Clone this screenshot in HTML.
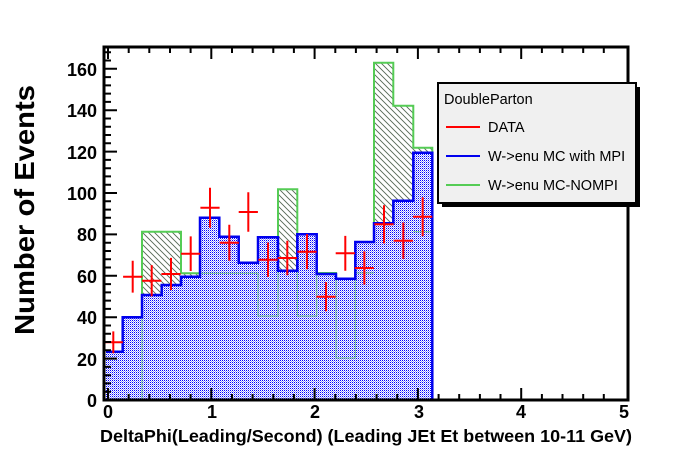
<!DOCTYPE html>
<html><head><style>body{margin:0;background:#fff}svg{display:block}</style></head><body>
<svg width="696" height="472" viewBox="0 0 696 472" xmlns="http://www.w3.org/2000/svg" font-family="Liberation Sans, sans-serif">
<defs>
<pattern id="dots" width="2" height="2" patternUnits="userSpaceOnUse"><rect width="2" height="2" fill="#fff"/><rect width="1" height="1" fill="#0000ff"/><rect x="1" y="1" width="1" height="1" fill="#9999ff"/></pattern>
<pattern id="hatch" width="6" height="6" patternUnits="userSpaceOnUse"><rect width="6" height="6" fill="#fff"/><path d="M0,0 L6,6 M-1,5 L1,7 M5,-1 L7,1" stroke="#556655" stroke-width="0.9"/></pattern>
</defs>
<rect width="696" height="472" fill="#fff"/>
<path d="M122.7,400 H142 V231.7 H181 V273.3 H258 V316 H278 V189.3 H297.3 V316 H316.7 V273 H336 V358 H355.3 V273 H374 V62.7 H393.3 V105.7 H413.3 V147.7 H432.3 V231.7 V400 Z" fill="url(#hatch)" stroke="#55cc55" stroke-width="2"/>
<path d="M106,400 V351.7 H122.7 V317.3 H142 V295 H161.7 V285 H181 V276.7 H200 V217.7 H219.3 V236.7 H238.7 V262.7 H258 V237.3 H278 V270.7 H297.3 V234.3 H316.7 V274 H336 V278.7 H355.3 V242 H374 V223.3 H393.3 V200.7 H413.3 V152.7 H432.3 V400 Z" fill="url(#dots)"/>
<path d="M142,400 V231.7 H181 V273.3 H258 V316 H278 V189.3 H297.3 V316 H316.7 V273 H336 V358 H355.3 V273 H374 M413.3,231.7 H432.3" fill="none" stroke="#55cc55" stroke-width="1" opacity="0.7"/>
<path d="M106,351.7 H122.7 V317.3 H142 V295 H161.7 V285 H181 V276.7 H200 V217.7 H219.3 V236.7 H238.7 V262.7 H258 V237.3 H278 V270.7 H297.3 V234.3 H316.7 V274 H336 V278.7 H355.3 V242 H374 V223.3 H393.3 V200.7 H413.3 V152.7 H432.3 V400 H628" fill="none" stroke="#0000ee" stroke-width="2.5"/>
<g stroke="#ff0000" stroke-width="2">
<path d="M103.7,342.3h19.2M113.3,331.4v21.8"/>
<path d="M123.1,276.7h19.2M132.7,260.8v31.8"/>
<path d="M142.1,280.7h19.2M151.7,265.1v31.2"/>
<path d="M161.4,274h19.2M171,257.9v32.2"/>
<path d="M181.1,253.7h19.2M190.7,236.4v34.6"/>
<path d="M200.4,207.7h19.2M210,187.7v40"/>
<path d="M219.7,242.7h19.2M229.3,224.8v35.8"/>
<path d="M238.7,212h19.2M248.3,192.3v39.4"/>
<path d="M258.4,259.7h19.2M268,242.5v34.4"/>
<path d="M277.7,258h19.2M287.3,240.7v34.6"/>
<path d="M297.4,251.7h19.2M307,234.1v35.2"/>
<path d="M316.4,296.7h19.2M326,282.1v29.2"/>
<path d="M335.7,253.3h19.2M345.3,235.9v34.8"/>
<path d="M354.7,268h19.2M364.3,251.4v33.2"/>
<path d="M374.4,224.3h19.2M384,205.2v38.2"/>
<path d="M393.7,240.7h19.2M403.3,222.5v36.4"/>
<path d="M413.1,216.7h19.2M422.7,197.2v39"/>
</g>
<rect x="104" y="47" width="524" height="353" fill="none" stroke="#000" stroke-width="3"/>
<g stroke="#000" stroke-width="2">
<path d="M104,400h13M104,358.6h13M104,317.2h13M104,275.8h13M104,234.4h13M104,193h13M104,151.6h13M104,110.2h13M104,68.8h13"/>
<path d="M104,391.7h7M104,383.4h7M104,375.2h7M104,366.9h7M104,350.3h7M104,342h7M104,333.8h7M104,325.5h7M104,308.9h7M104,300.6h7M104,292.4h7M104,284.1h7M104,267.5h7M104,259.2h7M104,251h7M104,242.7h7M104,226.1h7M104,217.8h7M104,209.6h7M104,201.3h7M104,184.7h7M104,176.4h7M104,168.2h7M104,159.9h7M104,143.3h7M104,135h7M104,126.8h7M104,118.5h7M104,101.9h7M104,93.6h7M104,85.4h7M104,77.1h7M104,60.5h7M104,52.2h7"/>
<path d="M108,400v-12M211.3,400v-12M314.6,400v-12M417.9,400v-12M521.2,400v-12M108,47v12M211.3,47v12M314.6,47v12M417.9,47v12M521.2,47v12"/>
<path d="M128.7,400v-6M149.3,400v-6M170,400v-6M190.6,400v-6M232,400v-6M252.6,400v-6M273.3,400v-6M293.9,400v-6M335.3,400v-6M355.9,400v-6M376.6,400v-6M397.2,400v-6M438.6,400v-6M459.2,400v-6M479.9,400v-6M500.5,400v-6M541.9,400v-6M562.5,400v-6M583.2,400v-6M603.8,400v-6M128.7,47v6M149.3,47v6M170,47v6M190.6,47v6M232,47v6M252.6,47v6M273.3,47v6M293.9,47v6M335.3,47v6M355.9,47v6M376.6,47v6M397.2,47v6M438.6,47v6M459.2,47v6M479.9,47v6M500.5,47v6M541.9,47v6M562.5,47v6M583.2,47v6M603.8,47v6"/>
</g>
<g font-size="18" font-weight="bold" text-anchor="end">
<text x="97" y="407">0</text><text x="97" y="366">20</text><text x="97" y="324">40</text><text x="97" y="283">60</text><text x="97" y="241">80</text><text x="97" y="200">100</text><text x="97" y="159">120</text><text x="97" y="117">140</text><text x="97" y="76">160</text>
</g>
<g font-size="18" font-weight="bold" text-anchor="middle">
<text x="108" y="418">0</text><text x="212" y="418">1</text><text x="315" y="418">2</text><text x="419" y="418">3</text><text x="521" y="418">4</text><text x="624" y="418">5</text>
</g>
<text x="366" y="442" font-size="17.5" font-weight="bold" text-anchor="middle" textLength="532" lengthAdjust="spacingAndGlyphs">DeltaPhi(Leading/Second) (Leading JEt Et between 10-11 GeV)</text>
<text transform="translate(34,210) rotate(-90)" font-size="28" font-weight="bold" text-anchor="middle" textLength="250" lengthAdjust="spacingAndGlyphs">Number of Events</text>
<rect x="442" y="87" width="198" height="120" fill="#000"/>
<rect x="438" y="83" width="198" height="120" fill="#f0f0f0" stroke="#000" stroke-width="2"/>
<text x="444" y="104" font-size="14.5">DoubleParton</text>
<line x1="446" y1="127" x2="480" y2="127" stroke="#ff0000" stroke-width="2"/>
<text x="488" y="132" font-size="14.5">DATA</text>
<line x1="446" y1="156" x2="480" y2="156" stroke="#0000ee" stroke-width="2"/>
<text x="488" y="161" font-size="14.5">W-&gt;enu MC with MPI</text>
<line x1="446" y1="185" x2="480" y2="185" stroke="#55cc55" stroke-width="2"/>
<text x="488" y="190" font-size="14.5">W-&gt;enu MC-NOMPI</text>
</svg>
</body></html>
